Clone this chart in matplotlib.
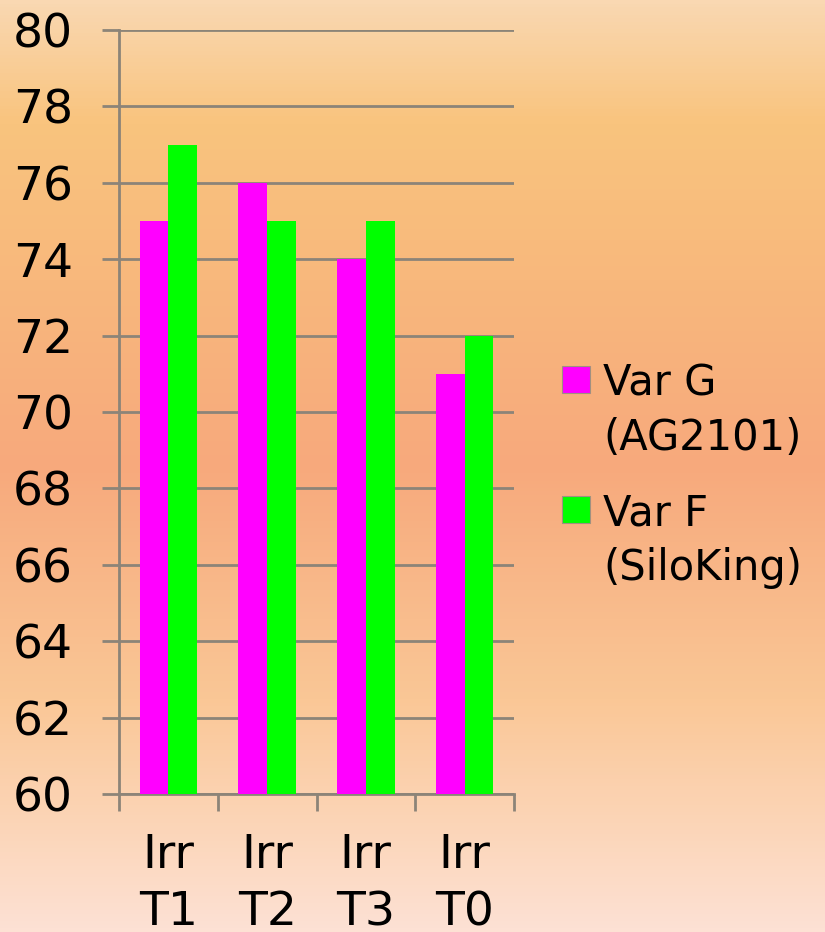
import numpy as np
import matplotlib
matplotlib.use("Agg")
import matplotlib.pyplot as plt
from matplotlib.colors import LinearSegmentedColormap
from matplotlib.patches import Rectangle

categories = ["Irr\nT1", "Irr\nT2", "Irr\nT3", "Irr\nT0"]
var_g = [75, 76, 74, 71]
var_f = [77, 75, 75, 72]
series_labels = ["Var G\n(AG2101)", "Var F\n(SiloKing)"]
series_colors = ["#ff00ff", "#00ff00"]
y_ticks = [60, 62, 64, 66, 68, 70, 72, 74, 76, 78, 80]

plt.rcParams["font.family"] = ["DejaVu Sans"]
grid_color = "#8c8478"

fig = plt.figure(figsize=(8.25, 9.32), dpi=100)

# background gradient
bg = fig.add_axes([0, 0, 1, 1], zorder=-10)
stops = [(0.0, "#fad8b2"), (0.13, "#f9c47e"), (0.3, "#f8b87c"),
         (0.5, "#f7a97c"), (0.75, "#fac796"), (1.0, "#fde1d4")]
cmap = LinearSegmentedColormap.from_list("bg", stops)
grad = np.linspace(0, 1, 256).reshape(-1, 1)
bg.imshow(grad, aspect="auto", cmap=cmap, extent=[0, 1, 1, 0])
bg.axis("off")

ax = fig.add_axes([119 / 825, 138 / 932, 395 / 825, 764 / 932])
ax.set_facecolor("none")

x = np.arange(len(categories))
width = 0.29
ax.bar(x - width / 2, var_g, width, color=series_colors[0], zorder=3)
ax.bar(x + width / 2, var_f, width, color=series_colors[1], zorder=3)

ax.set_ylim(60, 80)
ax.set_xlim(-0.5, len(categories) - 0.5)
ax.set_yticks(y_ticks)
ax.yaxis.grid(True, color=grid_color, linewidth=2, zorder=0)
for sp in ["top", "right"]:
    ax.spines[sp].set_visible(False)
for sp in ["left", "bottom"]:
    ax.spines[sp].set_color(grid_color)
    ax.spines[sp].set_linewidth(2)

ax.tick_params(axis="y", length=12, width=2, color=grid_color, pad=21, labelsize=34)
# category boundaries as tick marks, labels at centers
ax.set_xticks(np.arange(len(categories) + 1) - 0.5)
ax.set_xticklabels([])
ax.tick_params(axis="x", which="major", length=12, width=2, color=grid_color)
ax.set_xticks(x, minor=True)
ax.set_xticklabels(categories, minor=True, fontsize=34, linespacing=1.35)
ax.tick_params(axis="x", which="minor", length=0, pad=28)

# legend drawn by hand so the swatch sits on the first line
leg_x = 562 / 825
leg_tops = [366, 496]
for lab, col, top in zip(series_labels, series_colors, leg_tops):
    fig.add_artist(Rectangle((leg_x, 1 - (top + 27) / 932), 28 / 825, 27 / 932,
                             transform=fig.transFigure, facecolor=col,
                             edgecolor="#a09080", linewidth=0.8))
    fig.text(603 / 825, 1 - (top - 4) / 932, lab, fontsize=30, va="top",
             ha="left", linespacing=1.4)

fig.savefig("out.png", dpi=100)
